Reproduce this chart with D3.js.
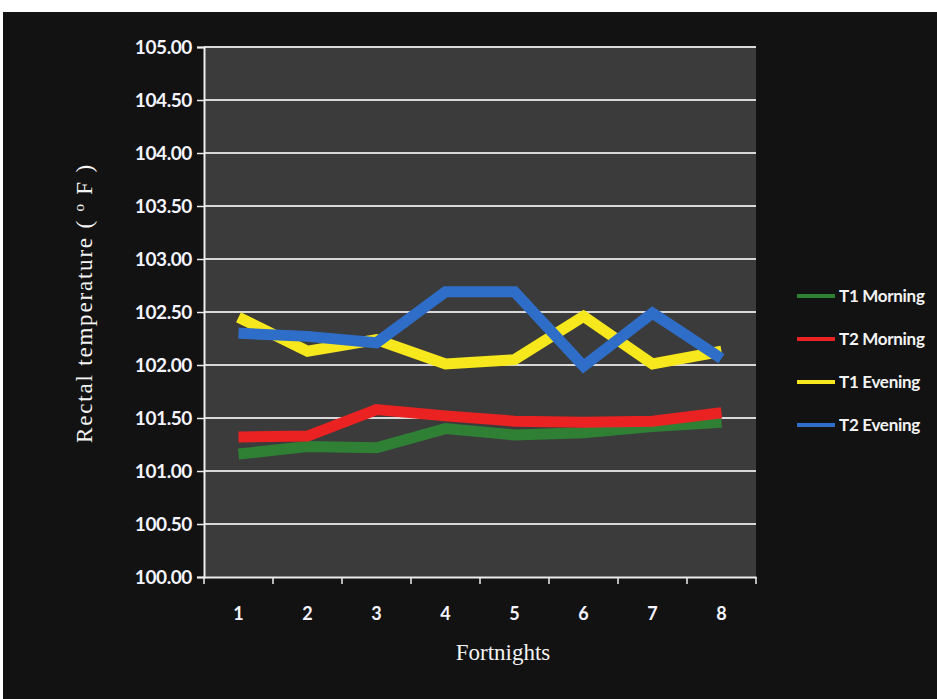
<!DOCTYPE html>
<html>
<head>
<meta charset="utf-8">
<script src="https://cdn.jsdelivr.net/npm/d3@7"></script>
<style>
  html, body { margin: 0; padding: 0; background: #fff; }
  svg { display: block; }
</style>
</head>
<body>
<svg id="chart" width="937" height="699"></svg>
<script>
// ---- data ----
const categories = ["1", "2", "3", "4", "5", "6", "7", "8"];
const seriesNames = ["T1 Morning", "T2 Morning", "T1 Evening", "T2 Evening"];
const t1Morning = [101.16, 101.23, 101.22, 101.40, 101.34, 101.36, 101.42, 101.46];
const t2Morning = [101.32, 101.33, 101.58, 101.52, 101.47, 101.46, 101.47, 101.55];
const t1Evening = [102.45, 102.13, 102.24, 102.01, 102.05, 102.46, 102.01, 102.13];
const t2Evening = [102.30, 102.27, 102.21, 102.69, 102.69, 101.99, 102.49, 102.06];
const yTicks = [100, 100.5, 101, 101.5, 102, 102.5, 103, 103.5, 104, 104.5, 105];
const colors = ["#2f8034", "#ea2222", "#f6e81c", "#2f6ec8"];

const seriesValues = [t1Morning, t2Morning, t1Evening, t2Evening];

const svg = d3.select("#chart");
const W = 937, H = 699;

// frame background (scanned black slide)
svg.append("rect").attr("x", 0).attr("y", 0).attr("width", W).attr("height", H).attr("fill", "#ffffff");
svg.append("rect").attr("x", 3).attr("y", 12).attr("width", W - 3).attr("height", H - 12).attr("fill", "#121212");

const plot = { left: 204, right: 756, top: 47, bottom: 577 };

const x = d3.scaleBand().domain(categories).range([plot.left, plot.right]).padding(0);
const y = d3.scaleLinear().domain([100, 105]).range([plot.bottom, plot.top]);

// plot area
svg.append("rect")
  .attr("x", plot.left).attr("y", plot.top)
  .attr("width", plot.right - plot.left).attr("height", plot.bottom - plot.top)
  .attr("fill", "#3b3b3b");

// gridlines
svg.append("g").selectAll("line").data(yTicks.filter(d => d > 100)).join("line")
  .attr("x1", plot.left).attr("x2", plot.right)
  .attr("y1", d => y(d)).attr("y2", d => y(d))
  .attr("stroke", "#d8d8d8").attr("stroke-width", 2);

// y axis
const yAxis = d3.axisLeft(y).tickValues(yTicks).tickFormat(d3.format(".2f")).tickSize(7).tickPadding(5);
const gy = svg.append("g").attr("transform", `translate(${plot.left},0)`).call(yAxis);
gy.select(".domain").attr("stroke", "#eeeeee").attr("stroke-width", 2);
gy.selectAll(".tick line").attr("stroke", "#eeeeee").attr("stroke-width", 1.5);
gy.selectAll(".tick text")
  .attr("fill", "#f4f4ff")
  .attr("font-family", "Lato, 'Open Sans', sans-serif")
  .attr("font-weight", "bold")
  .attr("font-size", 19)
  .attr("letter-spacing", "-0.4px");

// x axis
const xAxis = d3.axisBottom(x).tickSize(0).tickPadding(30);
const gx = svg.append("g").attr("transform", `translate(0,${plot.bottom})`).call(xAxis);
gx.select(".domain").attr("stroke", "#eeeeee").attr("stroke-width", 2);
gx.selectAll(".tick text")
  .attr("fill", "#f4f4ff")
  .attr("font-family", "Lato, 'Open Sans', sans-serif")
  .attr("font-weight", "bold")
  .attr("font-size", 18);
// boundary tick marks between categories
const bounds = categories.map(c => x(c)).concat([x(categories[categories.length - 1]) + x.bandwidth()]);
gx.append("g").selectAll("line").data(bounds).join("line")
  .attr("x1", d => d).attr("x2", d => d)
  .attr("y1", 0).attr("y2", 7)
  .attr("stroke", "#eeeeee").attr("stroke-width", 1.5);

// lines
const line = d3.line()
  .x((d, i) => x(categories[i]) + x.bandwidth() / 2)
  .y(d => y(d))
  .curve(d3.curveLinear);

svg.append("g").selectAll("path").data(seriesValues).join("path")
  .attr("d", d => line(d))
  .attr("fill", "none")
  .attr("stroke", (d, i) => colors[i])
  .attr("stroke-width", 11)
  .attr("stroke-linejoin", "miter")
  .attr("stroke-linecap", "butt");

// axis titles
svg.append("text")
  .attr("x", 503).attr("y", 660)
  .attr("text-anchor", "middle")
  .attr("fill", "#f4f4f4")
  .attr("font-family", "'Liberation Serif', 'DejaVu Serif', serif")
  .attr("font-size", 23)
  .text("Fortnights");

const yTitle = svg.append("text")
  .attr("transform", "translate(92,303) rotate(-90)")
  .attr("text-anchor", "middle")
  .attr("fill", "#f4f4f4")
  .attr("font-family", "'Liberation Serif', 'DejaVu Serif', serif")
  .attr("font-size", 23)
  .attr("letter-spacing", "1.8px");
yTitle.append("tspan").text("Rectal  temperature  ( ");
yTitle.append("tspan").attr("font-size", 15).attr("dy", -8).text("o");
yTitle.append("tspan").attr("dy", 8).text(" F )");

// legend
const legend = svg.append("g");
const lg = legend.selectAll("g").data(seriesNames).join("g")
  .attr("transform", (d, i) => `translate(797,${296 + i * 43})`);
lg.append("line")
  .attr("x1", 0).attr("x2", 38).attr("y1", 0).attr("y2", 0)
  .attr("stroke", (d, i) => colors[i]).attr("stroke-width", 4);
lg.append("text")
  .attr("x", 42).attr("y", 6)
  .attr("fill", "#f4f4f4")
  .attr("font-family", "Lato, 'Open Sans', sans-serif")
  .attr("font-weight", "bold")
  .attr("font-size", 17)
  .attr("letter-spacing", "-0.3px")
  .text(d => d);
</script>
</body>
</html>
